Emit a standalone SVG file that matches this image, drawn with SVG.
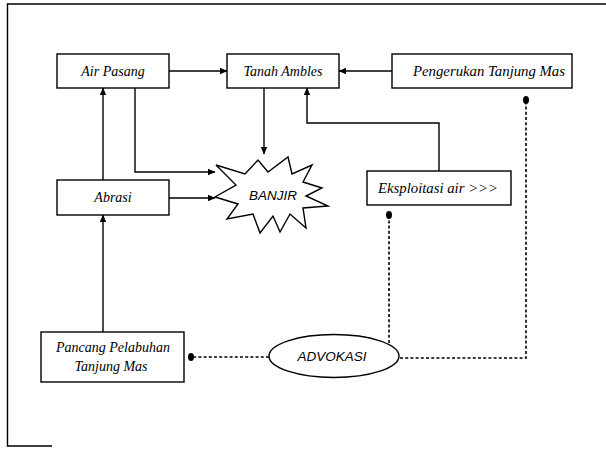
<svg xmlns="http://www.w3.org/2000/svg" width="606" height="449" viewBox="0 0 606 449">
  <defs>
    <marker id="arrow" markerWidth="8" markerHeight="8" refX="7" refY="4" orient="auto" markerUnits="userSpaceOnUse">
      <path d="M0,0.8 L7.5,4 L0,7.2 Z" fill="#000"/>
    </marker>
    <style>
      .box { fill: #fff; stroke: #000; stroke-width: 1.4; }
      .line { fill: none; stroke: #000; stroke-width: 1.4; }
      .dash { fill: none; stroke: #000; stroke-width: 1.6; stroke-dasharray: 3 2.2; }
      .lbl { font-family: "Liberation Serif", "Times New Roman", serif; font-style: italic; font-size: 14px; fill: #000; text-anchor: middle; }
      .sans { font-family: "Liberation Sans", Arial, sans-serif; font-style: italic; font-size: 13.5px; fill: #000; text-anchor: middle; }
      .dot { fill: #000; }
    </style>
  </defs>
  <rect width="606" height="449" fill="#fff"/>

  <!-- page frame -->
  <path class="line" d="M606,4 L7.5,4 L7.5,446 L52,446" stroke-width="1.6"/>

  <!-- connectors -->
  <g id="connectors">
    <line class="line" x1="169" y1="71" x2="227" y2="71" marker-end="url(#arrow)"/>
    <line class="line" x1="392" y1="71" x2="339" y2="71" marker-end="url(#arrow)"/>
    <line class="line" x1="264" y1="88" x2="264" y2="154" marker-end="url(#arrow)"/>
    <polyline class="line" points="135,88 135,172 215,172" marker-end="url(#arrow)"/>
    <line class="line" x1="169" y1="198" x2="215" y2="198" marker-end="url(#arrow)"/>
    <line class="line" x1="103" y1="180" x2="103" y2="88" marker-end="url(#arrow)"/>
    <line class="line" x1="103" y1="332" x2="103" y2="215" marker-end="url(#arrow)"/>
    <polyline class="line" points="439,171 439,123 307,123 307,88" marker-end="url(#arrow)"/>

    <line class="dash" x1="269" y1="357" x2="194" y2="357"/>
    <ellipse class="dot" cx="191" cy="357" rx="3" ry="4"/>
    <line class="dash" x1="389" y1="343" x2="389" y2="218"/>
    <ellipse class="dot" cx="389" cy="215" rx="3" ry="4"/>
    <polyline class="dash" points="400,358 526,358 526,103"/>
    <ellipse class="dot" cx="526" cy="100" rx="3" ry="4"/>
  </g>

  <!-- nodes -->
  <g id="air-pasang">
    <rect class="box" x="57" y="54" width="112" height="34"/>
    <text class="lbl" x="113" y="76">Air Pasang</text>
  </g>
  <g id="tanah-ambles">
    <rect class="box" x="227" y="54" width="112" height="34"/>
    <text class="lbl" x="283" y="76">Tanah Ambles</text>
  </g>
  <g id="pengerukan">
    <rect class="box" x="392" y="54" width="180" height="34"/>
    <text class="lbl" x="489" y="76" textLength="152" lengthAdjust="spacingAndGlyphs">Pengerukan Tanjung Mas</text>
  </g>
  <g id="abrasi">
    <rect class="box" x="57" y="180" width="112" height="35"/>
    <text class="lbl" x="113" y="202">Abrasi</text>
  </g>
  <g id="banjir">
    <polygon class="box" points="216,165 245,174 258,160 268,172 288,157 292,174 312,165 303,182 322,188 306,196 328,206 303,208 306,228 290,214 280,232 273,216 260,233 253,214 227,219 238,204 215,197 236,185"/>
    <text class="sans" x="273" y="200">BANJIR</text>
  </g>
  <g id="eksploitasi">
    <rect class="box" x="367" y="171" width="144" height="34"/>
    <text class="lbl" x="438" y="193" textLength="120" lengthAdjust="spacingAndGlyphs">Eksploitasi air &gt;&gt;&gt;</text>
  </g>
  <g id="pancang">
    <rect class="box" x="41" y="332" width="143" height="50"/>
    <text class="lbl" x="113" y="352" font-size="15">Pancang Pelabuhan</text>
    <text class="lbl" x="111" y="371" font-size="15">Tanjung Mas</text>
  </g>
  <g id="advokasi">
    <ellipse class="box" cx="334" cy="356" rx="65" ry="21.5"/>
    <text class="sans" x="332" y="361">ADVOKASI</text>
  </g>
</svg>
